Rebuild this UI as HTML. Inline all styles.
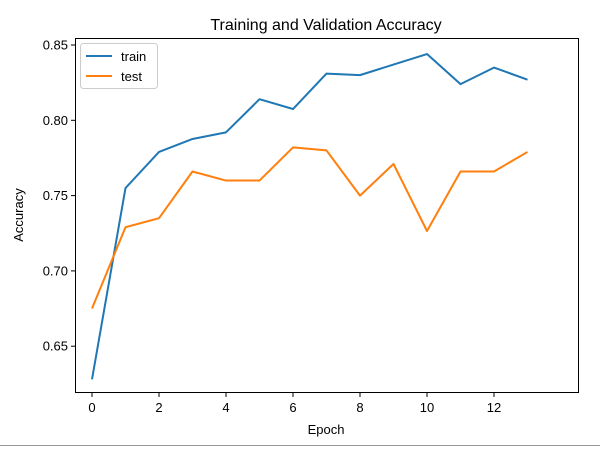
<!DOCTYPE html>
<html><head><meta charset="utf-8"><style>
body{margin:0;background:#fff;width:600px;height:447px;overflow:hidden;font-family:"Liberation Sans","DejaVu Sans",sans-serif}
</style></head><body>
<svg id="chart" width="600" height="447" xmlns="http://www.w3.org/2000/svg">
<rect x="0" y="0" width="600" height="447" fill="#fff"/>
<line x1="0" y1="445.5" x2="600" y2="445.5" stroke="#999" stroke-width="1"/>
<text x="326" y="30" font-size="16" text-anchor="middle" fill="#000">Training and Validation Accuracy</text>
<text x="326" y="434" font-size="13" text-anchor="middle">Epoch</text>
<text x="23" y="215" font-size="13" text-anchor="middle" transform="rotate(-90 23 215)">Accuracy</text>
<g id="ticks"></g>
<g id="series"></g>
<rect x="75.5" y="38.5" width="503" height="354" fill="none" stroke="#000" stroke-width="1"/>
<g>
<rect x="80.5" y="43.5" width="77" height="45" rx="3" fill="#fff" stroke="#ccc"/>
<line x1="86" y1="56" x2="112" y2="56" stroke="#1f77b4" stroke-width="2"/>
<text x="121" y="61" font-size="13">train</text>
<line x1="86" y1="76" x2="112" y2="76" stroke="#ff7f0e" stroke-width="2"/>
<text x="121" y="81" font-size="13">test</text>
</g>
</svg>
<script>
const epochs=[0,1,2,3,4,5,6,7,8,9,10,11,12,13];
const trainAcc=[0.628,0.755,0.779,0.7876,0.792,0.814,0.8075,0.831,0.830,0.837,0.844,0.824,0.835,0.827];
const testAcc=[0.675,0.729,0.735,0.766,0.760,0.760,0.782,0.780,0.750,0.771,0.7265,0.766,0.766,0.779];
const xTicks=[0,2,4,6,8,10,12];
const yTicks=[0.65,0.70,0.75,0.80,0.85];
const yTickLabels=["0.65","0.70","0.75","0.80","0.85"];
const NS="http://www.w3.org/2000/svg";
function xs(v){return 92+v*33.5;}
function ys(v){return 45+(0.85-v)*1506;}
const tg=document.getElementById('ticks');
xTicks.forEach(t=>{
  const l=document.createElementNS(NS,'line');
  
  
  l.setAttribute('x1',xs(t));l.setAttribute('x2',xs(t));l.setAttribute('y1',392.5);l.setAttribute('y2',397);l.setAttribute('stroke','#000');
  tg.appendChild(l);
  const tx=document.createElementNS(NS,'text');
  
  
  tx.setAttribute('x',xs(t));tx.setAttribute('y',412);tx.setAttribute('font-size','13');tx.setAttribute('text-anchor','middle');
  tx.textContent=t;tg.appendChild(tx);
});
yTicks.forEach((t,i)=>{
  const l=document.createElementNS(NS,'line');
  
  
  l.setAttribute('x1',71);l.setAttribute('x2',75.5);l.setAttribute('y1',ys(t));l.setAttribute('y2',ys(t));l.setAttribute('stroke','#000');
  tg.appendChild(l);
  const tx=document.createElementNS(NS,'text');
  
  
  tx.setAttribute('x',68);tx.setAttribute('y',ys(t)+4.5);tx.setAttribute('font-size','13');tx.setAttribute('text-anchor','end');
  tx.textContent=yTickLabels[i];tg.appendChild(tx);
});
const sg=document.getElementById('series');
[[trainAcc,'#1f77b4','train-line'],[testAcc,'#ff7f0e','test-line']].forEach(([d,c,n])=>{
  const p=document.createElementNS(NS,'polyline');
  
  
  p.setAttribute('points',d.map((v,i)=>xs(epochs[i])+','+ys(v)).join(' '));
  p.setAttribute('fill','none');p.setAttribute('stroke',c);p.setAttribute('stroke-width','2');p.setAttribute('stroke-linejoin','round');
  sg.appendChild(p);
});
</script>
</body></html>
